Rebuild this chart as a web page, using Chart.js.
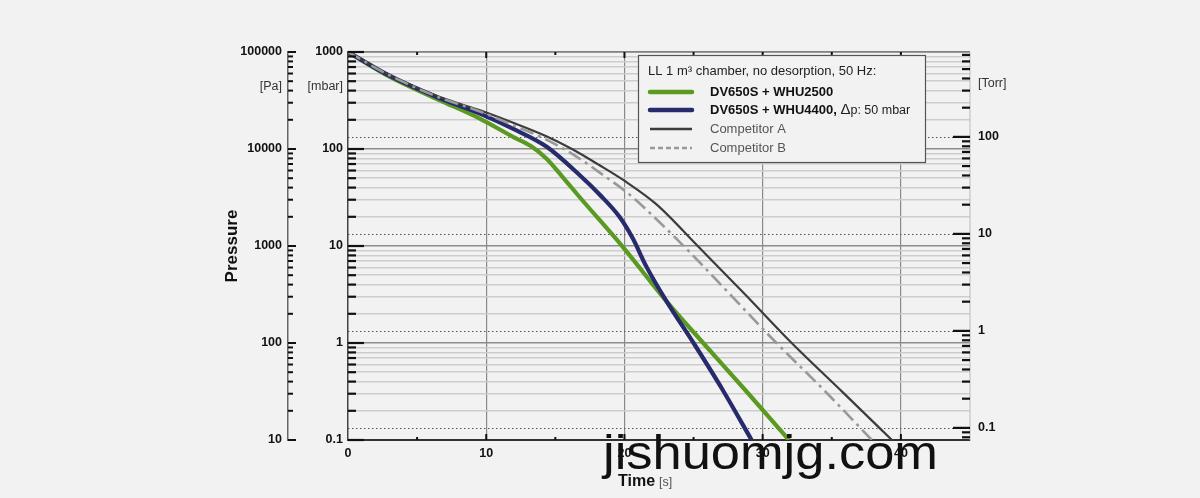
<!DOCTYPE html>
<html><head><meta charset="utf-8">
<script src="https://cdn.jsdelivr.net/npm/chart.js@4.4.0/dist/chart.umd.min.js"></script>
<style>html,body{margin:0;padding:0;background:#f2f2f2;overflow:hidden}#wrap{width:1200px;height:498px;position:relative}</style>
</head><body><div id="wrap"><canvas id="c" width="1200" height="498"></canvas></div>
<script>
// ---- data (time in s, pressure in mbar) ----
const greenTime = [0, 3, 6.6, 9.5, 12, 13.2, 14.35, 15.5, 16.75, 19.88, 23.06, 25.7, 28.8, 31.9];
const greenMbar = [1000, 557, 320, 207, 132, 108, 80, 52, 32, 9.8, 2.67, 1, 0.32, 0.1];
const blueTime = [0, 3, 6.6, 9.5, 12, 14.35, 16.75, 18.2, 19.64, 20.6, 21.57, 23.06, 25.0, 27.1, 29.2];
const blueMbar = [1000, 570, 335, 233, 160, 106, 54, 34, 20, 12, 6.2, 2.67, 1, 0.33, 0.1];
const compATime = [0, 3, 6.6, 9.5, 12, 14.35, 16.2, 18.2, 20.1, 22.3, 25.3, 28.7, 32.1, 35.8, 39.35];
const compAMbar = [1000, 580, 345, 252, 185, 135, 100, 68, 46, 27, 10, 3.2, 1, 0.31, 0.1];
const compBTime = [0, 3, 6.6, 9.5, 11.9, 14.35, 16.5, 18.45, 20.4, 22.5, 24.7, 27.9, 31.0, 34.5, 37.9];
const compBMbar = [1000, 575, 340, 245, 177, 125, 84, 54, 33.6, 17.8, 8.7, 2.9, 1, 0.32, 0.1];

const seriesLabels = ['DV650S + WHU2500', 'DV650S + WHU4400, ', 'Competitor A', 'Competitor B'];
const legendTitle = 'LL 1 m\u00B3 chamber, no desorption, 50 Hz:';
const legendExtra = ['\u0394', 'p: 50 mbar'];
const timeTitle = ['Time', '[s]'];
const pressureTitle = 'Pressure';
const unitLabels = { pa: '[Pa]', mbar: '[mbar]', torr: '[Torr]' };
const watermark = 'jishuomjg.com';

const xMin = 0, xMax = 45, xStep = 5, xLabelEvery = 10;
const mbarRange = [0.1, 1000];
const paRange = [10, 100000];
const torrRange = [0.075, 750];
const torrDecades = [0.1, 1, 10, 100];
const minorMultipliers = [1, 2, 3, 4, 5, 6, 7, 8, 9];

const FONT = '"Liberation Sans", Arial, Helvetica, sans-serif';

function pts(t, p) { return t.map((v, i) => ({ x: v, y: p[i] })); }
function isDecade(v) { const l = Math.log10(v); return Math.abs(l - Math.round(l)) < 1e-6; }
function isWhole(v) { const e = Math.floor(Math.log10(v) + 1e-9); const s = v / Math.pow(10, e); return Math.abs(s - Math.round(s)) < 1e-6; }
function logTicks(min, max) {
  const out = [];
  for (let e = Math.floor(Math.log10(min)) - 1; e <= Math.ceil(Math.log10(max)); e++) {
    for (const m of minorMultipliers) {
      const v = parseFloat((m * Math.pow(10, e)).toPrecision(6));
      if (v >= min * 0.9999 && v <= max * 1.0001) out.push({ value: v });
    }
  }
  return out;
}
function decadeLabel(v) { return isDecade(v) ? String(Number(v.toPrecision(1))) : ''; }

const tickFont = { family: FONT, size: 12.5, weight: 'bold' };

const decor = {
  id: 'decor',
  beforeDatasetsDraw(chart) {
    const { ctx, chartArea: a } = chart;
    const t = chart.scales.yTorr;
    ctx.save();
    ctx.strokeStyle = '#555'; ctx.lineWidth = 1; ctx.setLineDash([1.5, 2.5]);
    torrDecades.forEach(v => {
      const y = Math.round(t.getPixelForValue(v)) + 0.5;
      ctx.beginPath(); ctx.moveTo(a.left, y); ctx.lineTo(a.right, y); ctx.stroke();
    });
    ctx.restore();
  },
  afterDatasetsDraw(chart) {
    const { ctx, chartArea: a } = chart;
    const sx = chart.scales.x, sy = chart.scales.y, sp = chart.scales.yPa, st = chart.scales.yTorr;
    ctx.save();
    ctx.strokeStyle = '#777'; ctx.lineWidth = 1.2;
    ctx.beginPath(); ctx.moveTo(a.left, a.top); ctx.lineTo(a.right, a.top); ctx.stroke();
    ctx.strokeStyle = '#bbb'; ctx.lineWidth = 1;
    ctx.beginPath(); ctx.moveTo(a.right, a.top); ctx.lineTo(a.right, a.bottom); ctx.stroke();
    ctx.strokeStyle = '#111'; ctx.lineCap = 'butt';
    function vTicks(scale, x0, dir, big, small, w) {
      scale.ticks.forEach(tk => {
        const v = tk.value; if (!isWhole(v)) return;
        const y = scale.getPixelForValue(v);
        const len = isDecade(v) ? big : small;
        ctx.lineWidth = w;
        ctx.beginPath(); ctx.moveTo(x0, y); ctx.lineTo(x0 + dir * len, y); ctx.stroke();
      });
    }
    vTicks(sy, a.left, 1, 16, 8, 2.2);
    vTicks(sp, sp.right, 1, 8, 5, 2);
    vTicks(st, a.right, -1, 17, 8, 2.2);
    sx.ticks.forEach(tk => {
      const v = tk.value; if (v <= xMin || v >= xMax) return;
      const x = sx.getPixelForValue(v);
      const len = v % xLabelEvery === 0 ? 6 : 3;
      ctx.lineWidth = 2;
      ctx.beginPath(); ctx.moveTo(x, a.bottom); ctx.lineTo(x, a.bottom - len); ctx.stroke();
      ctx.beginPath(); ctx.moveTo(x, a.top); ctx.lineTo(x, a.top + len); ctx.stroke();
    });
    ctx.fillStyle = '#333'; ctx.font = '12.5px ' + FONT; ctx.textBaseline = 'middle';
    ctx.textAlign = 'right';
    ctx.fillText(unitLabels.pa, sp.right - 6, sy.getPixelForValue(440));
    ctx.fillText(unitLabels.mbar, a.left - 5, sy.getPixelForValue(440));
    ctx.textAlign = 'left';
    ctx.fillText(unitLabels.torr, a.right + 8, sy.getPixelForValue(470));
    const bx = 638, by = 55, bw = 287, bh = 107;
    ctx.fillStyle = '#f2f2f2'; ctx.fillRect(bx, by, bw, bh);
    ctx.strokeStyle = '#555'; ctx.lineWidth = 1.2; ctx.strokeRect(bx + 0.5, by + 0.5, bw, bh);
    ctx.fillStyle = '#222'; ctx.font = '13px ' + FONT; ctx.textAlign = 'left';
    ctx.fillText(legendTitle, 648, 71);
    const rows = [92, 110, 129, 148];
    chart.data.datasets.forEach((ds, i) => {
      const y = rows[i];
      ctx.save();
      ctx.strokeStyle = ds.borderColor; ctx.lineWidth = i < 2 ? 4.5 : 2.5;
      ctx.lineCap = i < 2 ? 'round' : 'butt';
      ctx.setLineDash(i === 3 ? [5, 3] : []);
      ctx.beginPath(); ctx.moveTo(650, y); ctx.lineTo(692, y); ctx.stroke();
      ctx.restore();
      ctx.fillStyle = i < 2 ? '#111' : '#555';
      ctx.font = (i < 2 ? 'bold ' : '') + '13px ' + FONT;
      ctx.fillText(ds.label, 710, y);
      if (i === 1) {
        let x = 710 + ctx.measureText(ds.label).width;
        ctx.font = '15px ' + FONT; ctx.fillStyle = '#222';
        ctx.fillText(legendExtra[0], x, y); x += ctx.measureText(legendExtra[0]).width;
        ctx.font = '12.5px ' + FONT;
        ctx.fillText(legendExtra[1], x, y + 1);
      }
    });
    ctx.textBaseline = 'alphabetic';
    ctx.fillStyle = '#111'; ctx.font = 'bold 16px ' + FONT;
    ctx.fillText(timeTitle[0], 618, 486);
    const tw = ctx.measureText(timeTitle[0]).width;
    ctx.fillStyle = '#555'; ctx.font = '12.5px ' + FONT;
    ctx.fillText(timeTitle[1], 618 + tw + 4, 486);
    ctx.restore();
  },
  afterDraw(chart) {
    const ctx = chart.ctx;
    ctx.save();
    ctx.font = '48px ' + FONT; ctx.fillStyle = '#111'; ctx.textBaseline = 'alphabetic'; ctx.textAlign = 'left';
    const w = ctx.measureText(watermark).width;
    ctx.translate(603, 469); ctx.scale(335 / w, 1);
    ctx.fillText(watermark, 0, 0);
    ctx.restore();
  }
};

new Chart(document.getElementById('c'), {
  type: 'line',
  data: {
    datasets: [
      { label: seriesLabels[0], data: pts(greenTime, greenMbar), borderColor: '#5a9a22', borderWidth: 4.2, order: 4 },
      { label: seriesLabels[1], data: pts(blueTime, blueMbar), borderColor: '#272a6c', borderWidth: 4.2, order: 3 },
      { label: seriesLabels[2], data: pts(compATime, compAMbar), borderColor: '#3c3c3c', borderWidth: 2.2, order: 2 },
      { label: seriesLabels[3], data: pts(compBTime, compBMbar), borderColor: '#999999', borderWidth: 2.6, borderDash: [14, 5, 3, 5], order: 1 }
    ]
  },
  options: {
    responsive: false, animation: false, devicePixelRatio: 1,
    elements: { point: { radius: 0 }, line: { cubicInterpolationMode: 'monotone', fill: false } },
    layout: { padding: { left: 220, right: 190, top: 52, bottom: 38 } },
    plugins: { legend: { display: false }, tooltip: { enabled: false } },
    scales: {
      x: {
        type: 'linear', min: xMin, max: xMax,
        ticks: { stepSize: xStep, autoSkip: false, maxRotation: 0, padding: 6, color: '#111', font: tickFont,
          callback: v => (v % xLabelEvery === 0 && v < xMax) ? String(v) : '' },
        grid: { drawTicks: false, lineWidth: 1.2,
          color: c => (c.tick && c.tick.value % xLabelEvery === 0 && c.tick.value > xMin && c.tick.value < xMax) ? '#8a8a8a' : 'rgba(0,0,0,0)' },
        border: { display: true, color: '#333', width: 2 },
        afterFit: s => { s.height = 20; }
      },
      y: {
        type: 'logarithmic', position: 'left', weight: 0, min: mbarRange[0], max: mbarRange[1],
        afterBuildTicks: s => { s.ticks = logTicks(mbarRange[0], mbarRange[1]); },
        ticks: { autoSkip: false, padding: 5, color: '#111', font: tickFont, callback: v => decadeLabel(v) },
        grid: { drawTicks: false,
          color: c => (c.tick && isDecade(c.tick.value)) ? '#8c8c8c' : '#cdcdcd',
          lineWidth: c => (c.tick && isDecade(c.tick.value)) ? 1.6 : 1.4 },
        border: { display: true, color: '#444', width: 1.5 },
        afterFit: s => { s.width = 60; }
      },
      yPa: {
        type: 'logarithmic', position: 'left', weight: 1, min: paRange[0], max: paRange[1],
        afterBuildTicks: s => { s.ticks = logTicks(paRange[0], paRange[1]); },
        ticks: { autoSkip: false, padding: 6, color: '#111', font: tickFont, callback: v => decadeLabel(v) },
        grid: { drawTicks: false, drawOnChartArea: false },
        border: { display: true, color: '#666', width: 1.5 },
        title: { display: true, text: pressureTitle, color: '#111', font: { family: FONT, size: 17, weight: 'bold' }, padding: { top: 2, bottom: 0 } },
        afterFit: s => { s.width = 68; }
      },
      yTorr: {
        type: 'logarithmic', position: 'right', min: torrRange[0], max: torrRange[1],
        afterBuildTicks: s => { s.ticks = logTicks(torrRange[0], torrRange[1]); },
        ticks: { autoSkip: false, padding: 8, color: '#111', font: tickFont, callback: v => decadeLabel(v) },
        grid: { drawTicks: false, drawOnChartArea: false },
        border: { display: false },
        afterFit: s => { s.width = 40; }
      }
    }
  },
  plugins: [decor]
});
</script></body></html>
